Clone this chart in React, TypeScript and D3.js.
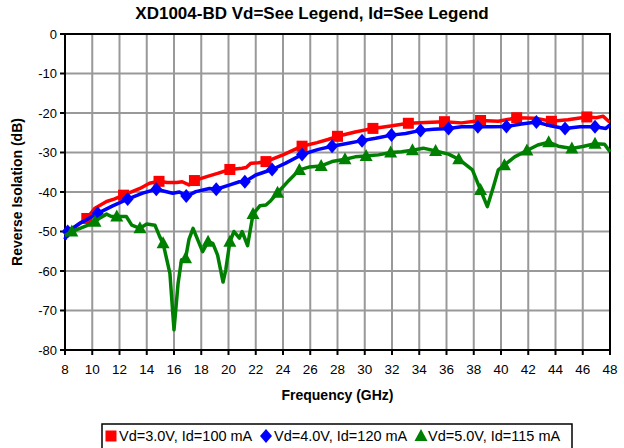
import React from "react";
import * as d3 from "d3";

const xTicks = [8, 10, 12, 14, 16, 18, 20, 22, 24, 26, 28, 30, 32, 34, 36, 38, 40, 42, 44, 46, 48];
const yTicks = [0, -10, -20, -30, -40, -50, -60, -70, -80];

const redCurve: [number, number][] = [
  [8, -51], [8.5, -49.5], [9.1, -47.9], [9.6, -46.7], [10.2, -44.1], [11.05, -42.4], [11.6, -41.8], [12.3, -40.8],
  [13.5, -39.1], [14.2, -37.8], [14.9, -37.3], [15.5, -37.6], [16.2, -37.6], [16.6, -37.4], [17.1, -38.2], [17.5, -37.1],
  [18.4, -36.1], [19.2, -35.3], [20.1, -34.3], [21.0, -34], [21.3, -33.8], [21.65, -32.7], [22.2, -32.6], [22.75, -32.3],
  [24.0, -30.6], [25.4, -28.4], [26.5, -27.5], [27.3, -26.7], [28.0, -25.9], [29.3, -24.8], [30.6, -23.9], [31.9, -23.3],
  [33.2, -22.6], [34.45, -22.4], [35.85, -22.2], [37.1, -22.5], [38.5, -21.9], [39.8, -22.1], [41.15, -21.2], [42.5, -21.3],
  [43.7, -22.1], [44.9, -21.7], [46.3, -21], [47.0, -21.2], [47.5, -20.8], [47.9, -22.1], [48, -22.2],
];
const redMarkers: [number, number][] = [
  [9.6, -46.7], [12.3, -40.8], [14.9, -37.3], [17.5, -37.1], [20.1, -34.3], [22.75, -32.3], [25.4, -28.4], [28.0, -25.9],
  [30.6, -23.9], [33.2, -22.6], [35.85, -22.2], [38.5, -21.9], [41.15, -21.2], [43.7, -22.1], [46.3, -21.0],
];

const blueCurve: [number, number][] = [
  [8, -52], [8.2, -50], [9.1, -47.9], [9.7, -46.8], [10.4, -45.4], [11.5, -43.5], [12.6, -41.8], [13.7, -40.3],
  [14.7, -39.3], [15.3, -39.8], [15.9, -40.3], [16.4, -40], [16.9, -41], [17.2, -40.6], [17.6, -39.9], [18.6, -39.1],
  [19.1, -39.3], [20.1, -38.2], [20.8, -37.4], [21.2, -37.4], [22.0, -35.7], [23.2, -34.3], [24.2, -32.7], [25.4, -30.5],
  [26.6, -29.2], [27.6, -28.4], [28.7, -27.7], [29.8, -27], [30.8, -26.4], [31.96, -25.6], [33.0, -25.2], [34.1, -24.4],
  [35.05, -24.1], [36.15, -23.9], [37.1, -23.5], [38.3, -23.5], [39.3, -23.5], [40.4, -23.4], [41.5, -22.8], [42.6, -22.3],
  [43.7, -23.3], [44.7, -23.9], [45.8, -23.5], [46.9, -23.5], [47.7, -23.9], [48, -23],
];
const blueMarkers: [number, number][] = [
  [8.2, -50], [10.4, -45.4], [12.6, -41.8], [14.7, -39.3], [16.9, -41], [19.1, -39.3], [21.2, -37.4], [23.2, -34.3],
  [25.4, -30.5], [27.6, -28.4], [29.8, -27], [31.96, -25.6], [34.1, -24.4], [36.15, -23.9], [38.3, -23.5], [40.4, -23.4],
  [42.6, -22.3], [44.7, -23.9], [46.9, -23.5],
];

const greenCurve: [number, number][] = [
  [8, -51], [8.5, -50], [9.1, -49.2], [9.6, -48.5], [10.2, -47.5], [10.6, -46.5], [11.05, -45.6], [11.4, -46.2],
  [11.8, -46.2], [12.5, -46.2], [12.9, -48.4], [13.5, -49.2], [14.0, -48.1], [14.6, -48.4], [14.95, -51.3], [15.2, -53],
  [15.7, -60.6], [16.0, -74.9], [16.3, -63.1], [16.55, -57.2], [16.85, -56.8], [17.1, -52], [17.4, -49.2], [17.75, -52.2],
  [18.1, -55.1], [18.5, -52.6], [18.85, -53], [19.2, -56], [19.6, -62.8], [19.8, -59.7], [20.1, -52.6], [20.4, -50],
  [20.8, -51.7], [21.0, -50], [21.4, -53.6], [21.8, -45.6], [22.3, -43.5], [22.75, -43.3], [23.1, -42.2], [23.6, -40.2],
  [24.45, -37], [25.2, -34.4], [25.9, -33.7], [26.8, -33.4], [27.6, -32.3], [28.55, -31.7], [29.3, -31.1], [30.1, -30.9],
  [31.0, -30.6], [31.9, -30], [32.7, -29.8], [33.5, -29.4], [34.3, -28.9], [35.2, -29.6], [36.15, -30.4], [36.9, -31.7],
  [37.9, -34.4], [38.5, -39.5], [39.0, -43.7], [39.45, -38.6], [39.8, -34.4], [40.25, -33.2], [41.0, -31.1], [41.9, -29.5],
  [42.7, -28.1], [43.5, -27.4], [44.2, -28.4], [45.2, -29], [46.0, -28.5], [46.9, -27.8], [47.6, -27.9], [48, -29.8],
];
const greenMarkers: [number, number][] = [
  [8.5, -50], [10.2, -47.5], [11.8, -46.2], [13.5, -49.2], [15.2, -53], [16.85, -56.8], [18.5, -52.6], [20.1, -52.6],
  [21.8, -45.6], [23.6, -40.2], [25.2, -34.4], [26.8, -33.4], [28.55, -31.7], [30.1, -30.9], [31.9, -30], [33.5, -29.4],
  [35.2, -29.6], [36.9, -31.7], [38.5, -39.5], [40.25, -33.2], [41.9, -29.5], [43.5, -27.4], [45.2, -29], [46.9, -27.8],
];

const legendLabels = ["Vd=3.0V, Id=100 mA", "Vd=4.0V, Id=120 mA", "Vd=5.0V, Id=115 mA"];

const FONT = "'Liberation Sans', Arial, Helvetica, sans-serif";
const RED = "#ff0000";
const BLUE = "#0000ff";
const GREEN = "#008000";

export default function App() {
  const left = 65, right = 610, top = 34, bottom = 350;
  const x = d3.scaleLinear().domain([8, 48]).range([left, right]);
  const y = d3.scaleLinear().domain([-80, 0]).range([bottom, top]);
  const line = d3.line<[number, number]>().x((d) => x(d[0])).y((d) => y(d[1]));

  const sq = (cx: number, cy: number, key: any, c: string) => (
    <rect key={key} x={cx - 5.5} y={cy - 5.5} width={11} height={11} fill={c} />
  );
  const dia = (cx: number, cy: number, key: any, c: string) => (
    <path key={key} d={`M${cx},${cy - 7}L${cx + 6},${cy}L${cx},${cy + 7}L${cx - 6},${cy}Z`} fill={c} />
  );
  const tri = (cx: number, cy: number, key: any, c: string) => (
    <path key={key} d={`M${cx},${cy - 7}L${cx + 6.5},${cy + 5}L${cx - 6.5},${cy + 5}Z`} fill={c} />
  );

  return (
    <svg width={624} height={448} style={{ position: "absolute", left: 0, top: 0, background: "#fff" }} fontFamily={FONT}>
      <rect x={0} y={0} width={624} height={448} fill="#fff" />
      <text x={312} y={19} textAnchor="middle" fontSize={17} fontWeight="bold">
        XD1004-BD Vd=See Legend, Id=See Legend
      </text>
      {/* grid */}
      {xTicks.map((t) => (
        <line key={"gx" + t} x1={x(t)} x2={x(t)} y1={top} y2={bottom} stroke="#999" strokeWidth={2} />
      ))}
      {yTicks.map((t) => (
        <line key={"gy" + t} x1={left} x2={right} y1={y(t)} y2={y(t)} stroke="#999" strokeWidth={2} />
      ))}
      {/* frame */}
      <rect x={left} y={top} width={right - left} height={bottom - top} fill="none" stroke="#000" strokeWidth={2} />
      {yTicks.map((t) => (
        <g key={"ty" + t}>
          <line x1={left - 5} x2={left} y1={y(t)} y2={y(t)} stroke="#000" strokeWidth={2} />
          <text x={left - 8} y={y(t) + 4.5} textAnchor="end" fontSize={13}>{t}</text>
        </g>
      ))}
      {xTicks.map((t) => (
        <g key={"tx" + t}>
          <line x1={x(t)} x2={x(t)} y1={bottom} y2={bottom + 5} stroke="#000" strokeWidth={2} />
          <text x={x(t)} y={bottom + 24} textAnchor="middle" fontSize={13.5}>{t}</text>
        </g>
      ))}
      <text x={(left + right) / 2} y={400} textAnchor="middle" fontSize={14} fontWeight="bold">Frequency (GHz)</text>
      <text transform={`translate(22,${(top + bottom) / 2}) rotate(-90)`} textAnchor="middle" fontSize={14} fontWeight="bold">
        Reverse Isolation (dB)
      </text>

      {/* series */}
      <path d={line(redCurve) || ""} fill="none" stroke={RED} strokeWidth={3.5} strokeLinejoin="round" />
      {redMarkers.map((d, i) => sq(x(d[0]), y(d[1]), "r" + i, RED))}
      <path d={line(blueCurve) || ""} fill="none" stroke={BLUE} strokeWidth={3.5} strokeLinejoin="round" />
      {blueMarkers.map((d, i) => dia(x(d[0]), y(d[1]), "b" + i, BLUE))}
      <path d={line(greenCurve) || ""} fill="none" stroke={GREEN} strokeWidth={3.5} strokeLinejoin="round" />
      {greenMarkers.map((d, i) => tri(x(d[0]), y(d[1]), "g" + i, GREEN))}

      {/* legend */}
      <rect x={102} y={424} width={470} height={30} fill="#fff" stroke="#000" strokeWidth={1.5} />
      {sq(111, 436, "l0", RED)}
      <text x={119} y={441} fontSize={14.5}>{legendLabels[0]}</text>
      {dia(266, 436, "l1", BLUE)}
      <text x={274} y={441} fontSize={14.5}>{legendLabels[1]}</text>
      {tri(421, 436, "l2", GREEN)}
      <text x={428} y={441} fontSize={14.5}>{legendLabels[2]}</text>
    </svg>
  );
}
